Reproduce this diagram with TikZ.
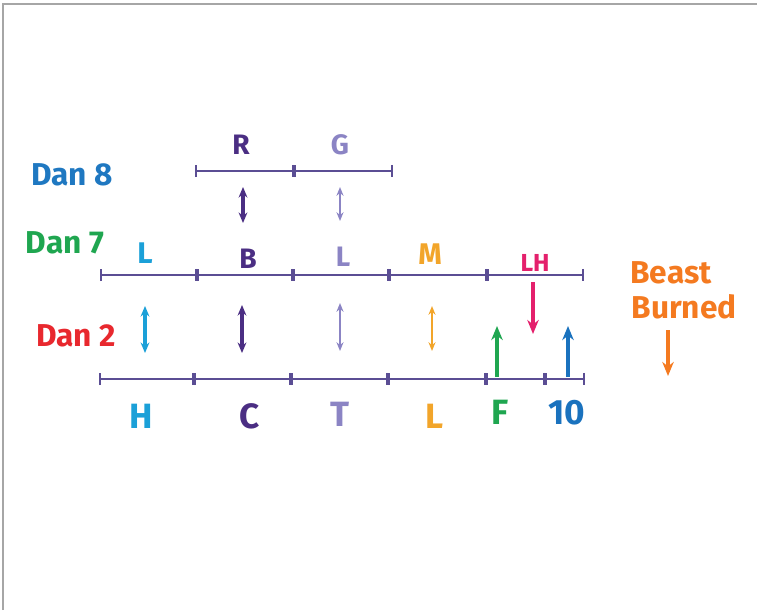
\documentclass[tikz,border=0pt]{standalone}
\usepackage{fontspec}
\setmainfont{Fira Sans}
\usepackage{xcolor}
\usetikzlibrary{arrows.meta}

\definecolor{danblue}{HTML}{1F78C1}
\definecolor{dangreen}{HTML}{1FA650}
\definecolor{danred}{HTML}{E8282E}
\definecolor{cyanish}{HTML}{1BA0D8}
\definecolor{darkpurple}{HTML}{4B2E83}
\definecolor{lavender}{HTML}{8B84C4}
\definecolor{goldish}{HTML}{F2A52A}
\definecolor{magentish}{HTML}{E4206C}
\definecolor{tenblue}{HTML}{1A72BE}
\definecolor{beastorange}{HTML}{F47A20}
\definecolor{linepurple}{HTML}{5B4E94}

\begin{document}
\begin{tikzpicture}[
  x=0.02cm, y=-0.02cm,
  every node/.style={inner sep=0pt, font=\bfseries\fontsize{16}{18}\selectfont},
  dan/.style={font=\bfseries\fontsize{18}{20}\selectfont},
  big/.style={font=\bfseries\fontsize{20}{22}\selectfont},
  mid/.style={font=\bfseries\fontsize{17}{19}\selectfont},
  small/.style={font=\bfseries\fontsize{14}{16}\selectfont},
  segment/.style={draw=linepurple, line width=1.1pt, {Bar[width=7pt]}-{Bar[width=7pt]}},
  twoway/.style={{Stealth[length=6pt,width=5pt]}-{Stealth[length=6pt,width=5pt]}, line width=1.8pt},
  thinway/.style={{Stealth[length=5pt,width=4pt]}-{Stealth[length=5pt,width=4pt]}, line width=1.1pt},
  oneway/.style={-{Stealth[length=8pt,width=6.5pt]}, line width=2.4pt}
  ]

  \useasboundingbox (0,0) rectangle (757,610);
  % frame
  \draw[gray!70, line width=1.2pt] (3,610) -- (3,4) -- (757,4);

  % row labels
  \node[dan, text=danblue]  (dan8) at (72,175) {Dan 8};
  \node[dan, text=dangreen] (dan7) at (65,243) {Dan 7};
  \node[dan, text=danred]   (dan2) at (76,336) {Dan 2};

  % Dan 8 line
  \coordinate (a0) at (195,171);
  \coordinate (a1) at (294,171);
  \coordinate (a2) at (393,171);
  \draw[segment] (a0) -- (a1);
  \draw[segment] (a1) -- (a2);
  \node[text=darkpurple] (r) at (241,145) {R};
  \node[text=lavender]   (g) at (340,145) {G};

  % Dan 7 line
  \coordinate (b0) at (100,275);
  \coordinate (b1) at (197,275);
  \coordinate (b2) at (293,275);
  \coordinate (b3) at (389,275);
  \coordinate (b4) at (487,275);
  \coordinate (b5) at (584,275);
  \draw[segment] (b0) -- (b1);
  \draw[segment] (b1) -- (b2);
  \draw[segment] (b2) -- (b3);
  \draw[segment] (b3) -- (b4);
  \draw[segment] (b4) -- (b5);
  \node[mid, text=cyanish]    (l1) at (145,253) {L};
  \node[text=darkpurple]      (b)  at (248,259) {B};
  \node[text=lavender]        (l2) at (343,257) {L};
  \node[mid, text=goldish]    (m)  at (430,254) {M};
  \node[small, text=magentish] (lh) at (535,263) {LH};

  % Dan 2 line
  \coordinate (c0) at (99,379);
  \coordinate (c1) at (194,379);
  \coordinate (c2) at (291,379);
  \coordinate (c3) at (388,379);
  \coordinate (c4) at (486,379);
  \coordinate (c5) at (545,379);
  \coordinate (c6) at (585,379);
  \draw[segment] (c0) -- (c1);
  \draw[segment] (c1) -- (c2);
  \draw[segment] (c2) -- (c3);
  \draw[segment] (c3) -- (c4);
  \draw[segment] (c4) -- (c5);
  \draw[segment] (c5) -- (c6);
  \node[big, text=cyanish]    (h)   at (141,416) {H};
  \node[big, text=darkpurple] (c)   at (250,416) {C};
  \node[big, text=lavender]   (t)   at (340,414) {T};
  \node[big, text=goldish]    (l3)  at (435,416) {L};
  \node[big, text=dangreen]   (f)   at (500,412) {F};
  \node[big, text=tenblue]    (ten) at (567,413) {10};

  % Beast Burned
  \node[dan, text=beastorange] (beast)  at (671,273) {Beast};
  \node[dan, text=beastorange] (burned) at (684,307) {Burned};

  % arrow ends
  \coordinate (p1) at (243,187);  \coordinate (q1) at (243,223);
  \coordinate (p2) at (340,187);  \coordinate (q2) at (340,221);
  \coordinate (p3) at (145,306);  \coordinate (q3) at (145,353);
  \coordinate (p4) at (242,305);  \coordinate (q4) at (242,353);
  \coordinate (p5) at (340,303);  \coordinate (q5) at (340,351);
  \coordinate (p6) at (432,306);  \coordinate (q6) at (432,351);
  \coordinate (p7) at (497,377);  \coordinate (q7) at (497,326);
  \coordinate (p8) at (533,282);  \coordinate (q8) at (533,334);
  \coordinate (p9) at (568,377);  \coordinate (q9) at (568,326);
  \coordinate (p10) at (668,330); \coordinate (q10) at (668,376);

  \draw[twoway, darkpurple] (p1) -- (q1);
  \draw[thinway, lavender]  (p2) -- (q2);
  \draw[twoway, cyanish]    (p3) -- (q3);
  \draw[twoway, darkpurple] (p4) -- (q4);
  \draw[thinway, lavender]  (p5) -- (q5);
  \draw[thinway, goldish]   (p6) -- (q6);
  \draw[oneway, dangreen]   (p7) -- (q7);
  \draw[oneway, magentish]  (p8) -- (q8);
  \draw[oneway, tenblue]    (p9) -- (q9);
  \draw[oneway, beastorange, line width=1.8pt] (p10) -- (q10);
\end{tikzpicture}
\end{document}
